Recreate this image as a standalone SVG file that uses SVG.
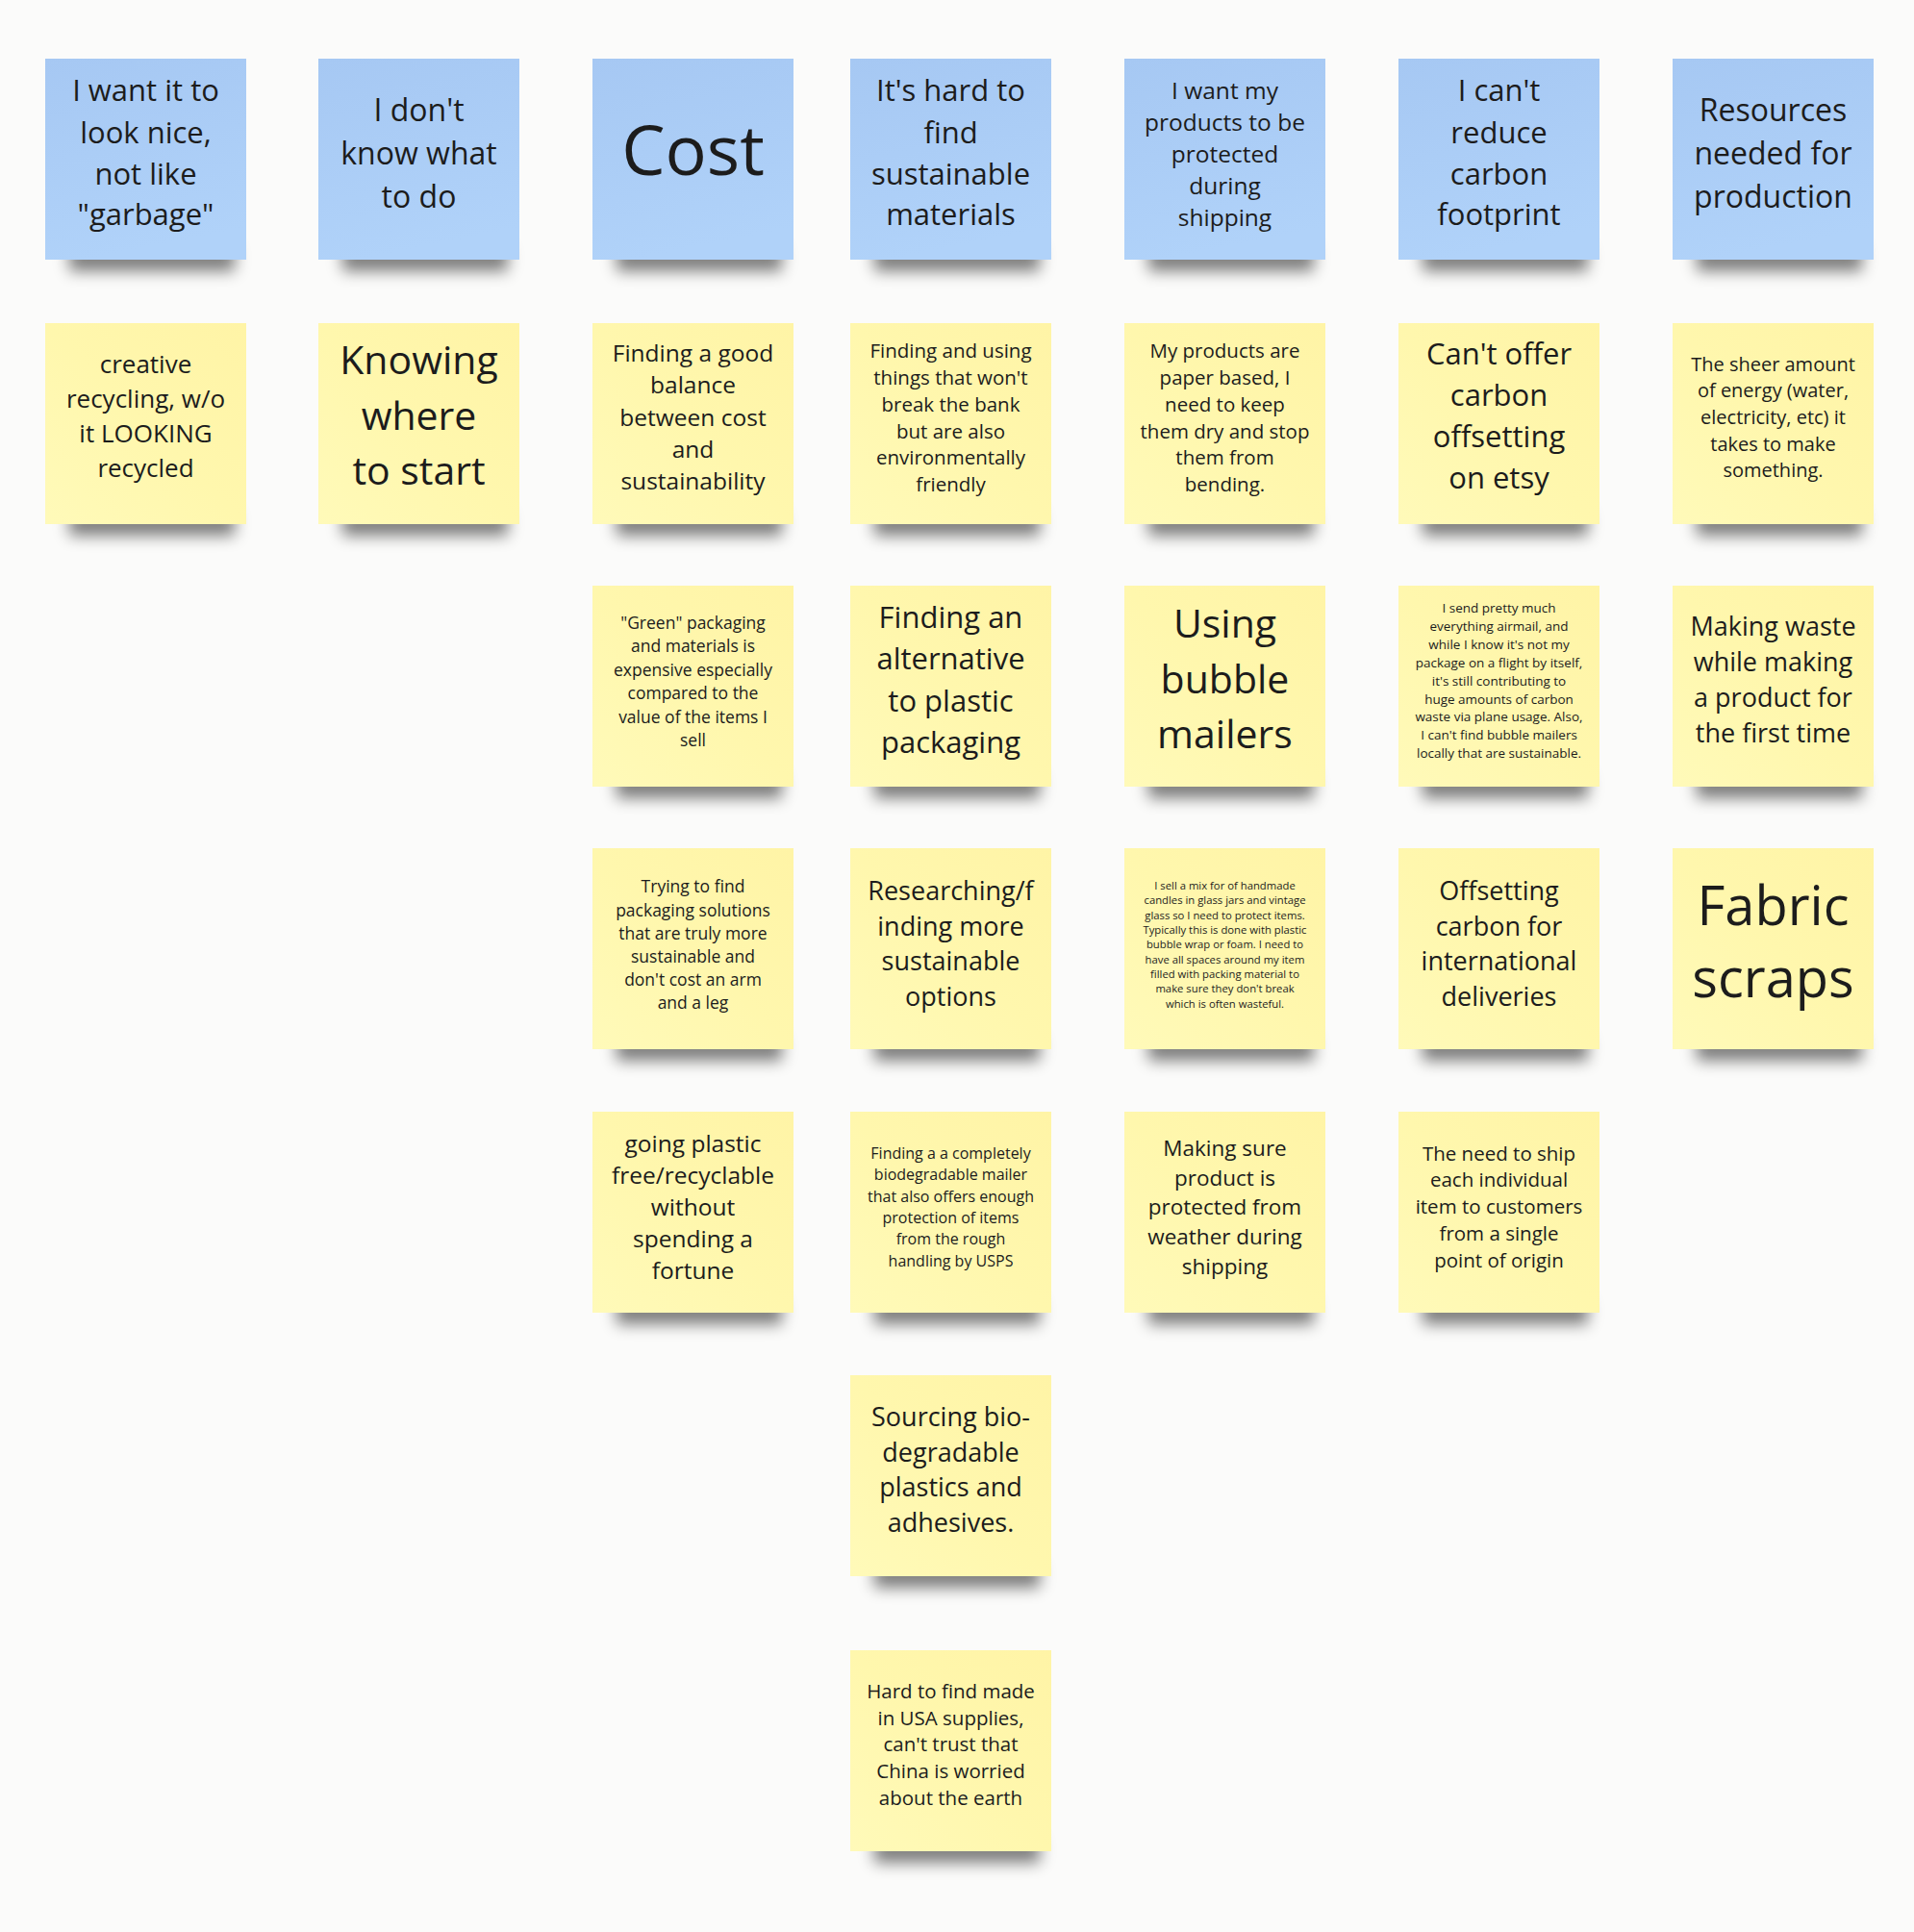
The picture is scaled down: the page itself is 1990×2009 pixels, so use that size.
<svg xmlns="http://www.w3.org/2000/svg" width="1990" height="2009" viewBox="0 0 1990 2009">
<defs>
<linearGradient id="gb" x1="0" y1="0" x2="0.2" y2="1"><stop offset="0" stop-color="#a6c8f3"/><stop offset="1" stop-color="#b0d2f9"/></linearGradient>
<linearGradient id="gy" x1="1" y1="0" x2="0" y2="1"><stop offset="0" stop-color="#fff4a6"/><stop offset="0.5" stop-color="#fff7ad"/><stop offset="1" stop-color="#fffab9"/></linearGradient>
<filter id="blur" x="-30%" y="-150%" width="160%" height="400%"><feGaussianBlur stdDeviation="8"/></filter>
</defs>
<style>
.bg{fill:#fbfbfa}
.sh{fill:#000;opacity:.5;filter:url(#blur)}
.blue{fill:url(#gb)}
.yel{fill:url(#gy)}
text{font-family:"Open Sans","Noto Sans","Liberation Sans",sans-serif;fill:#1c1c1c;text-anchor:middle}
</style>
<rect class="bg" x="0" y="0" width="1990" height="2009"/>
<g id="connectors"/>

<!-- Row 1 -->
<g id="n-r1c1"><rect class="sh" x="72" y="256" width="172" height="26"/><rect class="blue" x="47" y="61" width="209" height="209"/>
<text font-size="31"><tspan x="151.5" y="105">I want it to</tspan><tspan x="151.5" y="148.5">look nice,</tspan><tspan x="151.5" y="191.5">not like</tspan><tspan x="151.5" y="234">"garbage"</tspan></text></g>
<g id="n-r1c2"><rect class="sh" x="356" y="256" width="172" height="26"/><rect class="blue" x="331" y="61" width="209" height="209"/>
<text font-size="32"><tspan x="435.5" y="125.5">I don't</tspan><tspan x="435.5" y="170.5">know what</tspan><tspan x="435.5" y="215.5">to do</tspan></text></g>
<g id="n-r1c3"><rect class="sh" x="641" y="256" width="172" height="26"/><rect class="blue" x="616" y="61" width="209" height="209"/>
<text font-size="72"><tspan x="720.5" y="182">Cost</tspan></text></g>
<g id="n-r1c4"><rect class="sh" x="909" y="256" width="172" height="26"/><rect class="blue" x="884" y="61" width="209" height="209"/>
<text font-size="31"><tspan x="988.5" y="105">It's hard to</tspan><tspan x="988.5" y="148.5">find</tspan><tspan x="988.5" y="191.5">sustainable</tspan><tspan x="988.5" y="234">materials</tspan></text></g>
<g id="n-r1c5"><rect class="sh" x="1194" y="256" width="172" height="26"/><rect class="blue" x="1169" y="61" width="209" height="209"/>
<text font-size="24.5"><tspan x="1273.5" y="102.6">I want my</tspan><tspan x="1273.5" y="135.6">products to be</tspan><tspan x="1273.5" y="168.6">protected</tspan><tspan x="1273.5" y="201.6">during</tspan><tspan x="1273.5" y="234.6">shipping</tspan></text></g>
<g id="n-r1c6"><rect class="sh" x="1479" y="256" width="172" height="26"/><rect class="blue" x="1454" y="61" width="209" height="209"/>
<text font-size="31"><tspan x="1558.5" y="105">I can't</tspan><tspan x="1558.5" y="148.5">reduce</tspan><tspan x="1558.5" y="191.5">carbon</tspan><tspan x="1558.5" y="234">footprint</tspan></text></g>
<g id="n-r1c7"><rect class="sh" x="1764" y="256" width="172" height="26"/><rect class="blue" x="1739" y="61" width="209" height="209"/>
<text font-size="32"><tspan x="1843.5" y="125.5">Resources</tspan><tspan x="1843.5" y="170.5">needed for</tspan><tspan x="1843.5" y="215.5">production</tspan></text></g>

<!-- Row 2 -->
<g id="n-r2c1"><rect class="sh" x="72" y="531" width="172" height="26"/><rect class="yel" x="47" y="336" width="209" height="209"/>
<text font-size="26"><tspan x="151.5" y="387.7">creative</tspan><tspan x="151.5" y="423.7">recycling, w/o</tspan><tspan x="151.5" y="459.7">it LOOKING</tspan><tspan x="151.5" y="495.7">recycled</tspan></text></g>
<g id="n-r2c2"><rect class="sh" x="356" y="531" width="172" height="26"/><rect class="yel" x="331" y="336" width="209" height="209"/>
<text font-size="41"><tspan x="435.5" y="389">Knowing</tspan><tspan x="435.5" y="446.5">where</tspan><tspan x="435.5" y="504">to start</tspan></text></g>
<g id="n-r2c3"><rect class="sh" x="641" y="531" width="172" height="26"/><rect class="yel" x="616" y="336" width="209" height="209"/>
<text font-size="24.5"><tspan x="720.5" y="376">Finding a good</tspan><tspan x="720.5" y="409.3">balance</tspan><tspan x="720.5" y="442.6">between cost</tspan><tspan x="720.5" y="475.9">and</tspan><tspan x="720.5" y="509.2">sustainability</tspan></text></g>
<g id="n-r2c4"><rect class="sh" x="909" y="531" width="172" height="26"/><rect class="yel" x="884" y="336" width="209" height="209"/>
<text font-size="20.5"><tspan x="988.5" y="372.4">Finding and using</tspan><tspan x="988.5" y="400.1">things that won't</tspan><tspan x="988.5" y="427.8">break the bank</tspan><tspan x="988.5" y="455.5">but are also</tspan><tspan x="988.5" y="483.2">environmentally</tspan><tspan x="988.5" y="510.9">friendly</tspan></text></g>
<g id="n-r2c5"><rect class="sh" x="1194" y="531" width="172" height="26"/><rect class="yel" x="1169" y="336" width="209" height="209"/>
<text font-size="20.5"><tspan x="1273.5" y="372.4">My products are</tspan><tspan x="1273.5" y="400.1">paper based, I</tspan><tspan x="1273.5" y="427.8">need to keep</tspan><tspan x="1273.5" y="455.5">them dry and stop</tspan><tspan x="1273.5" y="483.2">them from</tspan><tspan x="1273.5" y="510.9">bending.</tspan></text></g>
<g id="n-r2c6"><rect class="sh" x="1479" y="531" width="172" height="26"/><rect class="yel" x="1454" y="336" width="209" height="209"/>
<text font-size="31"><tspan x="1558.5" y="379">Can't offer</tspan><tspan x="1558.5" y="422">carbon</tspan><tspan x="1558.5" y="465">offsetting</tspan><tspan x="1558.5" y="508">on etsy</tspan></text></g>
<g id="n-r2c7"><rect class="sh" x="1764" y="531" width="172" height="26"/><rect class="yel" x="1739" y="336" width="209" height="209"/>
<text font-size="20"><tspan x="1843.5" y="385.8">The sheer amount</tspan><tspan x="1843.5" y="413.4">of energy (water,</tspan><tspan x="1843.5" y="441">electricity, etc) it</tspan><tspan x="1843.5" y="468.6">takes to make</tspan><tspan x="1843.5" y="496.2">something.</tspan></text></g>

<!-- Row 3 -->
<g id="n-r3c3"><rect class="sh" x="641" y="804" width="172" height="26"/><rect class="yel" x="616" y="609" width="209" height="209"/>
<text font-size="17.5"><tspan x="720.5" y="654">"Green" packaging</tspan><tspan x="720.5" y="678.4">and materials is</tspan><tspan x="720.5" y="702.8">expensive especially</tspan><tspan x="720.5" y="727.2">compared to the</tspan><tspan x="720.5" y="751.6">value of the items I</tspan><tspan x="720.5" y="776">sell</tspan></text></g>
<g id="n-r3c4"><rect class="sh" x="909" y="804" width="172" height="26"/><rect class="yel" x="884" y="609" width="209" height="209"/>
<text font-size="31"><tspan x="988.5" y="652.7">Finding an</tspan><tspan x="988.5" y="696.2">alternative</tspan><tspan x="988.5" y="739.7">to plastic</tspan><tspan x="988.5" y="783.2">packaging</tspan></text></g>
<g id="n-r3c5"><rect class="sh" x="1194" y="804" width="172" height="26"/><rect class="yel" x="1169" y="609" width="209" height="209"/>
<text font-size="41"><tspan x="1273.5" y="663.3">Using</tspan><tspan x="1273.5" y="720.8">bubble</tspan><tspan x="1273.5" y="778.3">mailers</tspan></text></g>
<g id="n-r3c6"><rect class="sh" x="1479" y="804" width="172" height="26"/><rect class="yel" x="1454" y="609" width="209" height="209"/>
<text font-size="13.5"><tspan x="1558.5" y="637.3">I send pretty much</tspan><tspan x="1558.5" y="656.15">everything airmail, and</tspan><tspan x="1558.5" y="675">while I know it's not my</tspan><tspan x="1558.5" y="693.85">package on a flight by itself,</tspan><tspan x="1558.5" y="712.7">it's still contributing to</tspan><tspan x="1558.5" y="731.55">huge amounts of carbon</tspan><tspan x="1558.5" y="750.4">waste via plane usage. Also,</tspan><tspan x="1558.5" y="769.25">I can't find bubble mailers</tspan><tspan x="1558.5" y="788.1">locally that are sustainable.</tspan></text></g>
<g id="n-r3c7"><rect class="sh" x="1764" y="804" width="172" height="26"/><rect class="yel" x="1739" y="609" width="209" height="209"/>
<text font-size="27"><tspan x="1843.5" y="661">Making waste</tspan><tspan x="1843.5" y="697.9">while making</tspan><tspan x="1843.5" y="734.8">a product for</tspan><tspan x="1843.5" y="771.7">the first time</tspan></text></g>

<!-- Row 4 -->
<g id="n-r4c3"><rect class="sh" x="641" y="1077" width="172" height="26"/><rect class="yel" x="616" y="882" width="209" height="209"/>
<text font-size="17.5"><tspan x="720.5" y="928.3">Trying to find</tspan><tspan x="720.5" y="952.5">packaging solutions</tspan><tspan x="720.5" y="976.7">that are truly more</tspan><tspan x="720.5" y="1000.9">sustainable and</tspan><tspan x="720.5" y="1025.1">don't cost an arm</tspan><tspan x="720.5" y="1049.3">and a leg</tspan></text></g>
<g id="n-r4c4"><rect class="sh" x="909" y="1077" width="172" height="26"/><rect class="yel" x="884" y="882" width="209" height="209"/>
<text font-size="27"><tspan x="988.5" y="936">Researching/f</tspan><tspan x="988.5" y="972.5">inding more</tspan><tspan x="988.5" y="1009">sustainable</tspan><tspan x="988.5" y="1045.5">options</tspan></text></g>
<g id="n-r4c5"><rect class="sh" x="1194" y="1077" width="172" height="26"/><rect class="yel" x="1169" y="882" width="209" height="209"/>
<text font-size="11.3"><tspan x="1273.5" y="925">I sell a mix for of handmade</tspan><tspan x="1273.5" y="940.35">candles in glass jars and vintage</tspan><tspan x="1273.5" y="955.7">glass so I need to protect items.</tspan><tspan x="1273.5" y="971.05">Typically this is done with plastic</tspan><tspan x="1273.5" y="986.4">bubble wrap or foam. I need to</tspan><tspan x="1273.5" y="1001.75">have all spaces around my item</tspan><tspan x="1273.5" y="1017.1">filled with packing material to</tspan><tspan x="1273.5" y="1032.45">make sure they don't break</tspan><tspan x="1273.5" y="1047.8">which is often wasteful.</tspan></text></g>
<g id="n-r4c6"><rect class="sh" x="1479" y="1077" width="172" height="26"/><rect class="yel" x="1454" y="882" width="209" height="209"/>
<text font-size="27"><tspan x="1558.5" y="936">Offsetting</tspan><tspan x="1558.5" y="972.5">carbon for</tspan><tspan x="1558.5" y="1009">international</tspan><tspan x="1558.5" y="1045.5">deliveries</tspan></text></g>
<g id="n-r4c7"><rect class="sh" x="1764" y="1077" width="172" height="26"/><rect class="yel" x="1739" y="882" width="209" height="209"/>
<text font-size="56"><tspan x="1843.5" y="961.7">Fabric</tspan><tspan x="1843.5" y="1036.7">scraps</tspan></text></g>

<!-- Row 5 -->
<g id="n-r5c3"><rect class="sh" x="641" y="1351" width="172" height="26"/><rect class="yel" x="616" y="1156" width="209" height="209"/>
<text font-size="24.5"><tspan x="720.5" y="1197.7">going plastic</tspan><tspan x="720.5" y="1230.7">free/recyclable</tspan><tspan x="720.5" y="1263.7">without</tspan><tspan x="720.5" y="1296.7">spending a</tspan><tspan x="720.5" y="1329.7">fortune</tspan></text></g>
<g id="n-r5c4"><rect class="sh" x="909" y="1351" width="172" height="26"/><rect class="yel" x="884" y="1156" width="209" height="209"/>
<text font-size="16"><tspan x="988.5" y="1205">Finding a a completely</tspan><tspan x="988.5" y="1227.3">biodegradable mailer</tspan><tspan x="988.5" y="1249.6">that also offers enough</tspan><tspan x="988.5" y="1271.9">protection of items</tspan><tspan x="988.5" y="1294.2">from the rough</tspan><tspan x="988.5" y="1316.5">handling by USPS</tspan></text></g>
<g id="n-r5c5"><rect class="sh" x="1194" y="1351" width="172" height="26"/><rect class="yel" x="1169" y="1156" width="209" height="209"/>
<text font-size="22.5"><tspan x="1273.5" y="1201.7">Making sure</tspan><tspan x="1273.5" y="1232.5">product is</tspan><tspan x="1273.5" y="1263.3">protected from</tspan><tspan x="1273.5" y="1294.1">weather during</tspan><tspan x="1273.5" y="1324.9">shipping</tspan></text></g>
<g id="n-r5c6"><rect class="sh" x="1479" y="1351" width="172" height="26"/><rect class="yel" x="1454" y="1156" width="209" height="209"/>
<text font-size="20.5"><tspan x="1558.5" y="1206.7">The need to ship</tspan><tspan x="1558.5" y="1234.45">each individual</tspan><tspan x="1558.5" y="1262.2">item to customers</tspan><tspan x="1558.5" y="1289.95">from a single</tspan><tspan x="1558.5" y="1317.7">point of origin</tspan></text></g>

<!-- Row 6 -->
<g id="n-r6c4"><rect class="sh" x="909" y="1625" width="172" height="26"/><rect class="yel" x="884" y="1430" width="209" height="209"/>
<text font-size="27"><tspan x="988.5" y="1482.9">Sourcing bio-</tspan><tspan x="988.5" y="1519.6">degradable</tspan><tspan x="988.5" y="1556.3">plastics and</tspan><tspan x="988.5" y="1593">adhesives.</tspan></text></g>

<!-- Row 7 -->
<g id="n-r7c4"><rect class="sh" x="909" y="1911" width="172" height="26"/><rect class="yel" x="884" y="1716" width="209" height="209"/>
<text font-size="20.5"><tspan x="988.5" y="1766">Hard to find made</tspan><tspan x="988.5" y="1793.7">in USA supplies,</tspan><tspan x="988.5" y="1821.4">can't trust that</tspan><tspan x="988.5" y="1849.1">China is worried</tspan><tspan x="988.5" y="1876.8">about the earth</tspan></text></g>
</svg>
